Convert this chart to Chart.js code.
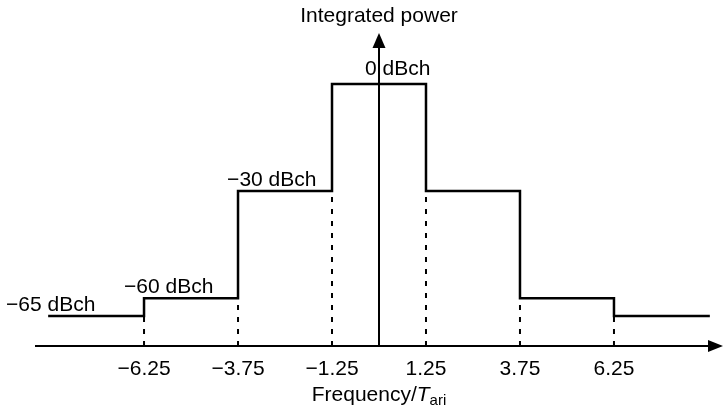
<!DOCTYPE html>
<html>
<head>
<meta charset="utf-8">
<script src="https://cdn.jsdelivr.net/npm/chart.js@4"></script>
<style>
  html, body { margin: 0; background: #fff; }
  #wrap { width: 723px; height: 411px; }
</style>
</head>
<body>
<div id="wrap"><canvas id="chart"></canvas></div>
<script>
// mask data: segment edges (frequency / Tari) and level of each segment (dBch)
const edges = [-8.8, -6.25, -3.75, -1.25, 1.25, 3.75, 6.25, 8.8];
const levels = [-65, -60, -30, 0, -30, -60, -65];
const tickValues = [-6.25, -3.75, -1.25, 1.25, 3.75, 6.25];
const tickLabels = ['\u22126.25', '\u22123.75', '\u22121.25', '1.25', '3.75', '6.25'];
const levelValues = [-65, -60, -30, 0];
const levelLabels = ['\u221265 dBch', '\u221260 dBch', '\u221230 dBch', '0 dBch'];

// where the level texts sit (left edge in x units, lift above the line in px)
const labelSpots = [[-9.92, 5.5], [-6.78, 5.5], [-4.04, 5.5], [-0.37, 9]];

const FONT = '"Liberation Sans", Arial, sans-serif';
const X_MIN = -9.15, X_MAX = 9.15, Y_MIN = -73.4, Y_MAX = 14.3;

// step line: each point carries the level of the segment to its right
const stepPoints = edges.map((x, i) => ({ x: x, y: levels[Math.min(i, levels.length - 1)] }));

// dotted drops from the lower side of every inner edge to the axis
const dropSets = edges.slice(1, -1).map((x, k) => {
    const low = Math.min(levels[k], levels[k + 1]);
    return {
        data: [{ x: x, y: Y_MIN }, { x: x, y: low }],
        borderColor: '#000',
        borderWidth: 2,
        borderDash: [5, 7],
        pointRadius: 0,
        clip: false
    };
});

const axesPlugin = {
    id: 'axes',
    afterDatasetsDraw(chart) {
        const ctx = chart.ctx;
        const xs = chart.scales.x, ys = chart.scales.y;
        const x0 = xs.getPixelForValue(0);
        const yAxis = ys.getPixelForValue(Y_MIN);
        const left = xs.getPixelForValue(X_MIN);
        const right = xs.getPixelForValue(X_MAX);
        const top = ys.getPixelForValue(Y_MAX);
        ctx.save();
        ctx.strokeStyle = '#000';
        ctx.fillStyle = '#000';
        ctx.lineWidth = 2;
        // x axis
        ctx.beginPath();
        ctx.moveTo(left, yAxis);
        ctx.lineTo(right - 10, yAxis);
        ctx.stroke();
        ctx.beginPath();
        ctx.moveTo(right, yAxis);
        ctx.lineTo(right - 15, yAxis - 6);
        ctx.lineTo(right - 15, yAxis + 6);
        ctx.closePath();
        ctx.fill();
        // y axis
        ctx.beginPath();
        ctx.moveTo(x0, yAxis);
        ctx.lineTo(x0, top + 10);
        ctx.stroke();
        ctx.beginPath();
        ctx.moveTo(x0, top);
        ctx.lineTo(x0 - 6.5, top + 15);
        ctx.lineTo(x0 + 6.5, top + 15);
        ctx.closePath();
        ctx.fill();

        // tick labels
        ctx.font = '21px ' + FONT;
        ctx.textAlign = 'center';
        ctx.textBaseline = 'alphabetic';
        tickValues.forEach((v, i) => {
            ctx.fillText(tickLabels[i], xs.getPixelForValue(v), yAxis + 29);
        });

        // level labels
        ctx.textAlign = 'left';
        levelValues.forEach((v, i) => {
            const [lx, lift] = labelSpots[i];
            ctx.fillText(levelLabels[i], xs.getPixelForValue(lx), ys.getPixelForValue(v) - lift);
        });

        // axis titles
        ctx.textAlign = 'center';
        ctx.fillText('Integrated power', x0, 22);

        const part1 = 'Frequency/', part2 = 'T', part3 = 'ari';
        ctx.font = '21px ' + FONT;
        const w1 = ctx.measureText(part1).width;
        ctx.font = 'italic 21px ' + FONT;
        const w2 = ctx.measureText(part2).width;
        ctx.font = '15px ' + FONT;
        const w3 = ctx.measureText(part3).width;
        let tx = x0 - (w1 + w2 + w3) / 2;
        const base = yAxis + 55;
        ctx.textAlign = 'left';
        ctx.font = '21px ' + FONT;
        ctx.fillText(part1, tx, base);
        tx += w1;
        ctx.font = 'italic 21px ' + FONT;
        ctx.fillText(part2, tx, base);
        tx += w2;
        ctx.font = '15px ' + FONT;
        ctx.fillText(part3, tx, base + 4);
        ctx.restore();
    }
};

const config = {
    type: 'line',
    data: {
        datasets: [{
            data: stepPoints,
            stepped: 'before',
            borderColor: '#000',
            borderWidth: 2.5,
            pointRadius: 0,
            fill: false,
            clip: false
        }].concat(dropSets)
    },
    options: {
        responsive: true,
        maintainAspectRatio: false,
        animation: false,
        layout: { padding: { left: 35, right: 0, top: 33, bottom: 65 } },
        scales: {
            x: { type: 'linear', min: X_MIN, max: X_MAX, display: false },
            y: { type: 'linear', min: Y_MIN, max: Y_MAX, display: false }
        },
        plugins: {
            legend: { display: false },
            tooltip: { enabled: false }
        }
    },
    plugins: [axesPlugin]
};

const chart = new Chart(document.getElementById('chart').getContext('2d'), config);
</script>
</body>
</html>
